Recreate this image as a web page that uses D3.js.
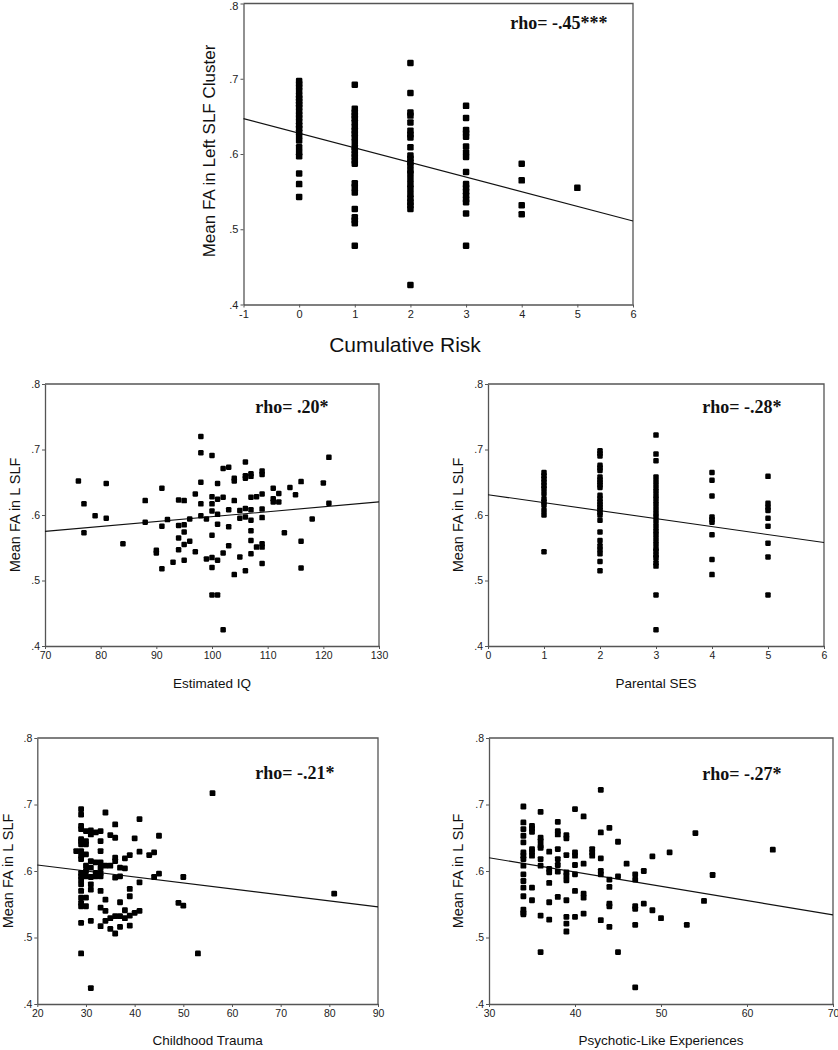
<!DOCTYPE html>
<html>
<head>
<meta charset="utf-8">
<script src="https://cdn.jsdelivr.net/npm/d3@7"></script>
<style>
  html, body { margin: 0; padding: 0; background: #fff; }
  svg { display: block; }
</style>
</head>
<body>
<svg id="chart" width="838" height="1050"></svg>
<script>
// ---------------- DATA ----------------
const yTicks = [0.4, 0.5, 0.6, 0.7, 0.8];
const yTickLabels = [".4", ".5", ".6", ".7", ".8"];

// Panel 1: Cumulative Risk
const riskTicks = [-1, 0, 1, 2, 3, 4, 5, 6];
const riskLevels = [0, 1, 2, 3, 4, 5];
const riskFA = [
  [.697,.693,.689,.684,.678,.674,.670,.666,.662,.657,.652,.648,.643,.638,.634,.629,.624,.618,.609,.602,.597,.574,.560,.543],
  [.692,.660,.655,.651,.647,.642,.636,.631,.627,.622,.616,.609,.605,.600,.596,.591,.587,.561,.556,.549,.527,.516,.512,.508,.478],
  [.721,.681,.655,.651,.642,.631,.626,.622,.609,.598,.594,.589,.585,.578,.574,.567,.560,.554,.547,.541,.536,.532,.527,.426],
  [.664,.648,.632,.628,.623,.610,.602,.596,.576,.560,.555,.550,.545,.540,.536,.521,.478],
  [.587,.565,.532,.520],
  [.555]
];
const riskFit = [.647, .511];   // fitted FA at x = -1 and x = 6
const riskRho = "rho= -.45***";

// Panel 2: Estimated IQ
const iqTicks = [70, 80, 90, 100, 110, 120, 130];
const iqPoints = [
  [76,.652],[77,.617],[77,.573],[79,.599],[81,.648],[81,.595],[84,.556],[88,.622],[88,.589],[90,.546],[90,.542],
  [91,.641],[91,.583],[91,.518],[92,.593],[93,.528],[94,.623],[94,.584],[94,.565],[94,.547],[95,.622],[95,.585],
  [95,.574],[95,.555],[95,.531],[96,.594],[96,.560],[97,.632],[97,.544],[98,.720],[98,.695],[98,.650],[98,.617],
  [98,.599],[99,.594],[99,.533],[100,.691],[100,.628],[100,.617],[100,.606],[100,.569],[100,.535],[100,.520],
  [100,.478],[101,.478],[101,.648],[101,.624],[101,.601],[101,.586],[101,.531],[102,.671],[102,.627],[102,.542],
  [102,.425],[103,.673],[103,.608],[103,.582],[103,.553],[104,.656],[104,.652],[104,.622],[104,.509],[105,.607],
  [105,.595],[105,.536],[106,.681],[106,.660],[106,.656],[106,.610],[106,.597],[106,.515],[107,.663],[107,.659],
  [107,.627],[107,.608],[107,.592],[107,.576],[107,.561],[107,.541],[108,.628],[108,.551],[109,.667],[109,.662],
  [109,.632],[109,.609],[109,.596],[109,.556],[109,.551],[109,.526],[111,.641],[111,.625],[111,.620],[112,.633],
  [112,.620],[113,.573],[114,.642],[115,.631],[116,.651],[116,.560],[116,.519],[118,.594],[120,.649],[121,.688],
  [121,.618]
];
const iqFit = [.575, .620];     // at x = 70 and x = 130
const iqRho = "rho= .20*";

// Panel 3: Parental SES
const sesTicks = [0, 1, 2, 3, 4, 5, 6];
const sesLevels = [1, 2, 3, 4, 5];
const sesFA = [
  [.665,.660,.655,.650,.645,.640,.633,.625,.620,.615,.607,.600,.544],
  [.698,.694,.690,.676,.672,.668,.658,.654,.650,.646,.642,.630,.625,.620,.616,.612,.608,.604,.600,.592,.574,.561,.553,.547,.541,.529,.515],
  [.722,.693,.683,.658,.651,.644,.637,.630,.624,.617,.610,.603,.597,.590,.583,.576,.570,.563,.556,.549,.545,.539,.535,.527,.522,.478,.425],
  [.665,.653,.629,.597,.593,.589,.570,.532,.509],
  [.659,.618,.612,.607,.595,.583,.557,.536,.478]
];
const sesFit = [.631, .558];    // at x = 0 and x = 6
const sesRho = "rho= -.28*";

// Panel 4: Childhood Trauma
const traumaTicks = [20, 30, 40, 50, 60, 70, 80, 90];
const traumaScores = [28, 29, 30, 31, 32, 33, 34, 35, 36, 37, 38, 39, 40, 41, 43, 44, 45, 49, 50, 53, 56, 81];
const traumaFA = [
  [.630],
  [.693,.685,.668,.663,.648,.645,.640,.630,.623,.618,.597,.592,.587,.580,.570,.560,.552,.547,.522,.476],
  [.660,.645,.640,.625,.608,.600,.592,.560,.547],
  [.661,.655,.615,.605,.591,.580,.572,.525,.424],
  [.658,.613,.597,.592],
  [.660,.645,.630,.613,.605,.597,.592,.570,.545,.517],
  [.688,.608,.557,.540,.525],
  [.654,.608,.529,.513],
  [.670,.650,.620,.615,.590,.532,.506],
  [.605,.592,.553,.532,.516],
  [.619,.604,.541,.529],
  [.624,.573,.562,.533,.518],
  [.649,.537],
  [.678,.629,.583,.540],
  [.624],
  [.628,.591],
  [.653,.596],
  [.552],
  [.591,.548],
  [.476],
  [.717],
  [.566]
];
const traumaFit = [.609, .546]; // at x = 20 and x = 90
const traumaRho = "rho= -.21*";

// Panel 5: Psychotic-Like Experiences
const pleTicks = [30, 40, 50, 60, 70];
const pleScores = [34, 35, 36, 37, 38, 39, 40, 41, 42, 43, 44, 45, 46, 47, 48, 49, 50, 51, 53, 54, 55, 56, 63];
const pleFA = [
  [.697,.673,.663,.653,.643,.628,.623,.618,.608,.595,.585,.575,.562,.542,.537,.535],
  [.668,.664,.659,.633,.629,.623,.575,.556],
  [.689,.650,.645,.638,.635,.618,.608,.533,.478],
  [.629,.603,.598,.582,.553,.527],
  [.674,.660,.655,.633,.618,.609,.599,.561],
  [.654,.649,.624,.598,.593,.586,.556,.531,.521,.509],
  [.693,.628,.623,.609,.595,.570,.531],
  [.682,.611,.566,.560,.536],
  [.633,.628,.623],
  [.722,.658,.619,.600,.595,.526],
  [.665,.587,.576,.551,.547,.516],
  [.644,.592,.478],
  [.611],
  [.595,.587,.547,.543,.519,.425],
  [.600,.551],
  [.622,.541],
  [.529],
  [.628],
  [.519],
  [.657],
  [.555],
  [.594],
  [.632]
];
const pleFit = [.620, .534];    // at x = 30 and x = 70
const pleRho = "rho= -.27*";

// ---------------- DRAWING ----------------
const svg = d3.select("#chart");
svg.append("rect").attr("width", 838).attr("height", 1050).attr("fill", "#fff");

const toPairs = (xs, ys) => xs.flatMap((x, i) => ys[i].map(v => [x, v]));

const axisColor = "#555";
const tickFont = "Arial, 'Liberation Sans', sans-serif";
const serif = "'Liberation Serif', 'Times New Roman', serif";

function drawPanel(p) {
  const x = d3.scaleLinear().domain(d3.extent(p.xTicks)).range([p.left, p.right]);
  const y = d3.scaleLinear().domain([0.4, 0.8]).range([p.bottom, p.top]);
  const g = svg.append("g");

  // frame (top & right)
  g.append("path")
    .attr("d", `M${p.left},${p.top}H${p.right}V${p.bottom}`)
    .attr("fill", "none").attr("stroke", axisColor).attr("stroke-width", 1.3);

  const ya = g.append("g").attr("transform", `translate(${p.left},0)`)
    .call(d3.axisLeft(y).tickValues(yTicks).tickSize(3).tickSizeOuter(0)
      .tickFormat((d, i) => yTickLabels[i]).tickPadding(2));
  const xa = g.append("g").attr("transform", `translate(0,${p.bottom})`)
    .call(d3.axisBottom(x).tickValues(p.xTicks).tickSize(3).tickSizeOuter(0)
      .tickFormat(d => String(d)).tickPadding(3));
  [ya, xa].forEach(a => {
    a.select(".domain").attr("stroke", axisColor).attr("stroke-width", 1.3);
    a.selectAll(".tick line").attr("stroke", axisColor);
    a.selectAll(".tick text").attr("fill", "#222")
      .style("font-family", tickFont).style("font-size", p.tickSize + "px");
  });
  if (p.topLabelShift) {
    ya.selectAll(".tick text").filter(d => d === 0.8)
      .attr("dy", (0.32 * p.tickSize + p.topLabelShift) + "px");
  }

  // fit line
  const xd = x.domain();
  g.append("line")
    .attr("x1", x(xd[0])).attr("y1", y(p.fit[0]))
    .attr("x2", x(xd[1])).attr("y2", y(p.fit[1]))
    .attr("stroke", "#111").attr("stroke-width", 1.1);

  // points
  const s = p.marker;
  g.append("g").selectAll("rect").data(p.points).join("rect")
    .attr("x", d => x(d[0]) - s / 2).attr("y", d => y(d[1]) - s / 2)
    .attr("width", s).attr("height", s).attr("rx", 1.2)
    .attr("fill", "#000");

  // rho
  g.append("text").attr("x", p.rhoX).attr("y", p.rhoY)
    .attr("text-anchor", "middle").attr("font-family", serif)
    .attr("font-weight", "bold").attr("font-size", 18).attr("fill", "#111")
    .text(p.rho);

  // axis labels
  g.append("text").attr("x", p.xLabelX ?? (p.left + p.right) / 2).attr("y", p.xLabelY)
    .attr("text-anchor", "middle").attr("font-family", tickFont)
    .attr("font-size", p.xLabelSize).attr("fill", "#111").text(p.xLabel);
  g.append("text")
    .attr("transform", `translate(${p.yLabelX},${p.yLabelY ?? (p.top + p.bottom) / 2}) rotate(-90)`)
    .attr("text-anchor", "middle").attr("font-family", tickFont)
    .attr("font-size", p.yLabelSize).attr("fill", "#111").text(p.yLabel);
}

drawPanel({
  left: 243.5, right: 633, top: 3.5, bottom: 304.5, topLabelShift: 2,
  xTicks: riskTicks, points: toPairs(riskLevels, riskFA), fit: riskFit,
  rho: riskRho, rhoX: 559, rhoY: 29, marker: 6.5, tickSize: 11,
  xLabel: "Cumulative Risk", xLabelX: 405, xLabelY: 352, xLabelSize: 21,
  yLabel: "Mean FA in Left SLF Cluster", yLabelX: 215, yLabelY: 151, yLabelSize: 17
});
drawPanel({
  left: 45, right: 379, top: 384, bottom: 646,
  xTicks: iqTicks, points: iqPoints, fit: iqFit,
  rho: iqRho, rhoX: 292, rhoY: 413, marker: 5.5, tickSize: 10.5,
  xLabel: "Estimated IQ", xLabelY: 688, xLabelSize: 13.5,
  yLabel: "Mean FA in L SLF", yLabelX: 20, yLabelSize: 14.5
});
drawPanel({
  left: 488, right: 824, top: 384, bottom: 646,
  xTicks: sesTicks, points: toPairs(sesLevels, sesFA), fit: sesFit,
  rho: sesRho, rhoX: 742, rhoY: 413, marker: 5.5, tickSize: 10.5,
  xLabel: "Parental SES", xLabelY: 688, xLabelSize: 13.5,
  yLabel: "Mean FA in L SLF", yLabelX: 463, yLabelSize: 14.5
});
drawPanel({
  left: 37.3, right: 378, top: 738, bottom: 1004,
  xTicks: traumaTicks, points: toPairs(traumaScores, traumaFA), fit: traumaFit,
  rho: traumaRho, rhoX: 295, rhoY: 779, marker: 5.8, tickSize: 10.5,
  xLabel: "Childhood Trauma", xLabelY: 1045, xLabelSize: 13.5,
  yLabel: "Mean FA in L SLF", yLabelX: 13, yLabelSize: 14.5
});
drawPanel({
  left: 489, right: 833, top: 738, bottom: 1004,
  xTicks: pleTicks, points: toPairs(pleScores, pleFA), fit: pleFit,
  rho: pleRho, rhoX: 742, rhoY: 780, marker: 5.8, tickSize: 10.5,
  xLabel: "Psychotic-Like Experiences", xLabelY: 1045, xLabelSize: 13.5,
  yLabel: "Mean FA in L SLF", yLabelX: 463, yLabelSize: 14.5
});
</script>
</body>
</html>
